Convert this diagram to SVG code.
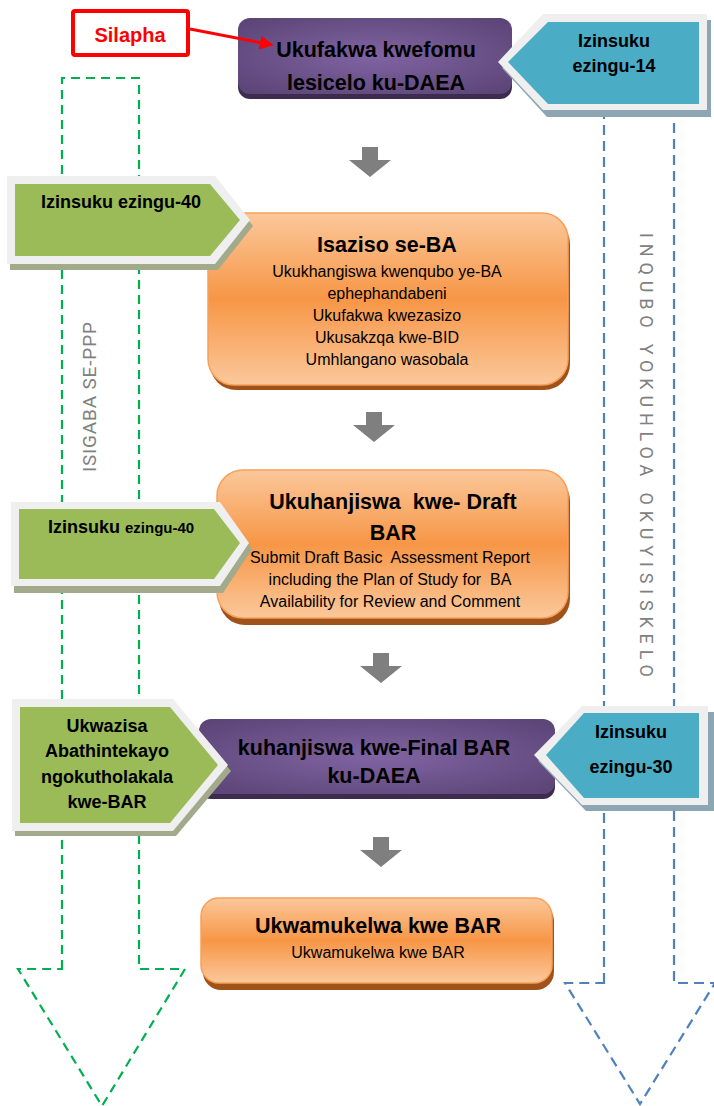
<svg xmlns="http://www.w3.org/2000/svg" width="714" height="1106" viewBox="0 0 714 1106">
<defs>
<style>
text{font-family:"Liberation Sans",Arial,sans-serif;fill:#000}
.t{font-weight:bold;font-size:21.5px;text-anchor:middle}
.s{font-size:16px;text-anchor:middle}
.p{font-weight:bold;font-size:18px;text-anchor:middle}
.v{font-family:Roboto,"Liberation Sans",sans-serif;fill:#808080;text-anchor:middle}
.brd{fill:#efefef}
.gsh{fill:#a3aa8c}
.bsh{fill:#8ea6b4}
.grn{fill:#9bbb59}
.blu{fill:#4bacc6}
.osh{fill:#a0521b}
.org{fill:url(#gOrange);stroke:#f8a05a;stroke-width:1.5}
.psh{fill:#3d2b50}
.pur{fill:url(#gPurple)}
.dg{fill:none;stroke:#00b050;stroke-width:2.2;stroke-dasharray:9 6}
.db{fill:none;stroke:#4f81bd;stroke-width:2.2;stroke-dasharray:10 6}
.dn{fill:#7f7f7f}
</style>
<linearGradient id="gOrange" x1="0" y1="0" x2="0" y2="1">
<stop offset="0" stop-color="#fbc89b"/>
<stop offset="0.5" stop-color="#f79646"/>
<stop offset="1" stop-color="#fbc89b"/>
</linearGradient>
<radialGradient id="gPurple" cx="50%" cy="50%" r="65%">
<stop offset="0" stop-color="#8164a3"/>
<stop offset="1" stop-color="#5c4577"/>
</radialGradient>
<path id="dnArrow" d="M-8,0 H8 V13 H21 L0,30 L-21,13 H-8 Z"/>
<marker id="redHead" markerUnits="userSpaceOnUse" markerWidth="16" markerHeight="16" refX="2" refY="7" orient="auto">
<path d="M0,0 L14,7 L0,14 Z" fill="#ff0000"/>
</marker>
</defs>

<g id="phases">
<g id="phase-ppp">
<path class="dg" d="M62,969 V78 H139 V969 H185 L102,1106 L18,969 Z"/>
<text class="v" font-size="19" transform="translate(96,397) rotate(-90)" textLength="150" lengthAdjust="spacing">ISIGABA SE-PPP</text>
</g>
<g id="phase-process">
<path class="db" d="M604,983 V100 H674 V983 H715 L640,1104 L565,983 Z"/>
<text class="v" font-size="18" transform="translate(640,455) rotate(90)" textLength="444" lengthAdjust="spacing">INQUBO YOKUHLOA OKUYISISKELO</text>
</g>
</g>

<g id="n-apply">
<rect class="psh" x="238" y="22" width="274" height="77" rx="12"/>
<rect class="pur" x="238" y="18" width="274" height="76" rx="12"/>
<text class="t" x="376" y="57">Ukufakwa kwefomu</text>
<text class="t" x="376" y="90">lesicelo ku-DAEA</text>
</g>

<g id="n-days14">
<polygon class="bsh" points="502,68 547,20 711,20 711,117 547,117"/>
<polygon class="brd" points="498,62 543,14 707,14 707,110 543,110"/>
<polygon class="blu" points="508,62 548,22 699,22 699,104 548,104"/>
<text class="p" x="614" y="47">Izinsuku</text>
<text class="p" x="614" y="72">ezingu-14</text>
</g>

<g id="n-notice">
<rect class="osh" x="210" y="218" width="360" height="172" rx="26"/>
<rect class="org" x="208" y="213" width="360" height="172" rx="26"/>
<text class="t" x="387" y="252">Isaziso se-BA</text>
<text class="s" x="387" y="277">Ukukhangiswa kwenqubo ye-BA</text>
<text class="s" x="387" y="299">ephephandabeni</text>
<text class="s" x="387" y="321">Ukufakwa kwezasizo</text>
<text class="s" x="387" y="343">Ukusakzqa kwe-BID</text>
<text class="s" x="387" y="365">Umhlangano wasobala</text>
</g>

<g id="n-days40a">
<polygon class="gsh" points="10,182 218,182 253,226 218,270 10,270"/>
<polygon class="brd" points="7,176 215,176 250,220 215,264 7,264"/>
<polygon class="grn" points="15,184 210,184 240,220 210,256 15,256"/>
<text class="p" x="121" y="208" font-size="17.5">Izinsuku ezingu-40</text>
</g>

<g id="n-draft">
<rect class="osh" x="219" y="475" width="351" height="150" rx="26"/>
<rect class="org" x="217" y="470" width="351" height="148" rx="26"/>
<text class="t" x="393" y="509" xml:space="preserve">Ukuhanjiswa  kwe- Draft</text>
<text class="t" x="393" y="540">BAR</text>
<text class="s" x="390" y="563" xml:space="preserve">Submit Draft Basic  Assessment Report</text>
<text class="s" x="390" y="585" xml:space="preserve">including the Plan of Study for  BA</text>
<text class="s" x="390" y="607">Availability for Review and Comment</text>
</g>

<g id="n-days40b">
<polygon class="gsh" points="14,508 223,508 252,549 223,593 14,593"/>
<polygon class="brd" points="11,502 220,502 249,543 220,586 11,586"/>
<polygon class="grn" points="19,509 214,509 240,543 214,579 19,579"/>
<text x="48" y="533" font-weight="bold" font-size="18">Izinsuku <tspan font-size="15">ezingu-40</tspan></text>
</g>

<g id="n-final">
<rect class="psh" x="199" y="723" width="356" height="76" rx="12"/>
<rect class="pur" x="199" y="719" width="356" height="75" rx="12"/>
<text class="t" x="374" y="755">kuhanjiswa kwe-Final BAR</text>
<text class="t" x="374" y="783">ku-DAEA</text>
</g>

<g id="n-notify">
<polygon class="gsh" points="15,705 176,705 231,771 176,836 15,836"/>
<polygon class="brd" points="12,699 173,699 228,765 173,831 12,831"/>
<polygon class="grn" points="20,707 170,707 218,765 170,823 20,823"/>
<text class="p" x="107" y="732">Ukwazisa</text>
<text class="p" x="107" y="757">Abathintekayo</text>
<text class="p" x="107" y="783">ngokutholakala</text>
<text class="p" x="107" y="808">kwe-BAR</text>
</g>

<g id="n-days30">
<polygon class="bsh" points="538,761 586,712 714,712 714,811 586,811"/>
<polygon class="brd" points="534,755 582,706 708,706 708,805 582,805"/>
<polygon class="blu" points="546,755 584,713 699,713 699,798 584,798"/>
<text class="p" x="631" y="738">Izinsuku</text>
<text class="p" x="631" y="773">ezingu-30</text>
</g>

<g id="n-accept">
<rect class="osh" x="203" y="903" width="351" height="87" rx="18"/>
<rect class="org" x="201" y="898" width="351" height="85" rx="18"/>
<text class="t" x="378" y="933">Ukwamukelwa kwe BAR</text>
<text class="s" x="378" y="958">Ukwamukelwa kwe BAR</text>
</g>

<g id="n-here">
<rect x="73" y="11" width="115" height="44" rx="2" fill="#fff" stroke="#ff0000" stroke-width="4"/>
<text x="130" y="42" font-weight="bold" font-size="20" text-anchor="middle" style="fill:#ff0000">Silapha</text>
</g>

<g id="connectors">
<use href="#dnArrow" class="dn" x="370" y="147"/>
<use href="#dnArrow" class="dn" x="374" y="412"/>
<use href="#dnArrow" class="dn" x="381" y="653"/>
<use href="#dnArrow" class="dn" x="381" y="837"/>
<line x1="190" y1="29" x2="262" y2="43" stroke="#ff0000" stroke-width="3" marker-end="url(#redHead)"/>
</g>
</svg>
